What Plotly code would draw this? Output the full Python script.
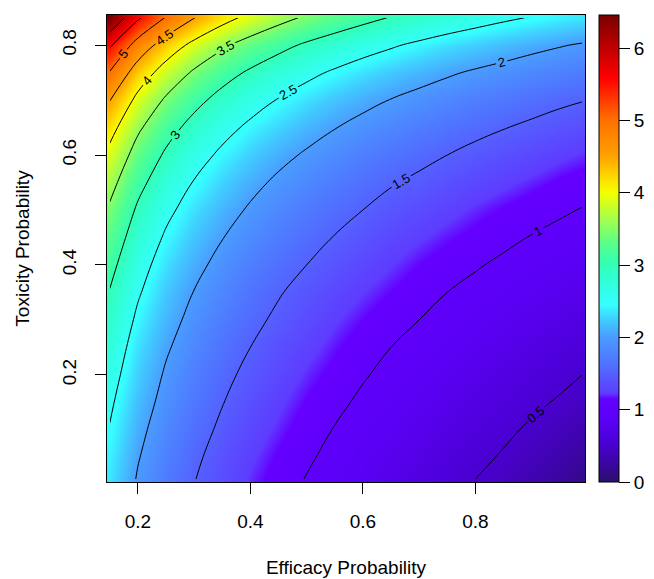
import plotly.graph_objects as go

# Grid (values estimated from colours / contour positions)
efficacy = [0.15, 0.2, 0.25, 0.3, 0.35, 0.4, 0.45, 0.5, 0.55,
            0.6, 0.65, 0.7, 0.75, 0.8, 0.85, 0.9, 0.95, 0.99]
toxicity = [0.01, 0.05, 0.1, 0.15, 0.2, 0.25, 0.3, 0.35, 0.4,
            0.45, 0.5, 0.55, 0.6, 0.65, 0.7, 0.75, 0.8, 0.85]

# one row per toxicity value, one column per efficacy value
z_t001 = [2.35, 1.97, 1.71, 1.51, 1.35, 1.21, 1.09, 0.99, 0.90, 0.81, 0.73, 0.65, 0.58, 0.50, 0.43, 0.34, 0.25, 0.14]
z_t005 = [2.40, 2.02, 1.76, 1.55, 1.39, 1.25, 1.13, 1.03, 0.94, 0.85, 0.77, 0.70, 0.62, 0.55, 0.48, 0.40, 0.32, 0.25]
z_t010 = [2.48, 2.09, 1.82, 1.61, 1.45, 1.31, 1.19, 1.08, 0.99, 0.90, 0.83, 0.75, 0.68, 0.61, 0.54, 0.47, 0.40, 0.34]
z_t015 = [2.56, 2.17, 1.89, 1.68, 1.51, 1.37, 1.25, 1.14, 1.05, 0.96, 0.88, 0.81, 0.74, 0.67, 0.61, 0.54, 0.48, 0.43]
z_t020 = [2.65, 2.25, 1.96, 1.74, 1.57, 1.43, 1.31, 1.20, 1.11, 1.02, 0.94, 0.87, 0.80, 0.74, 0.67, 0.61, 0.55, 0.50]
z_t025 = [2.75, 2.33, 2.04, 1.82, 1.64, 1.50, 1.37, 1.27, 1.17, 1.08, 1.00, 0.93, 0.86, 0.80, 0.74, 0.68, 0.62, 0.58]
z_t030 = [2.86, 2.43, 2.13, 1.90, 1.72, 1.57, 1.45, 1.34, 1.24, 1.15, 1.07, 1.00, 0.93, 0.87, 0.81, 0.75, 0.70, 0.65]
z_t035 = [2.98, 2.54, 2.22, 1.99, 1.81, 1.65, 1.52, 1.41, 1.31, 1.23, 1.15, 1.07, 1.00, 0.94, 0.88, 0.83, 0.77, 0.73]
z_t040 = [3.12, 2.65, 2.33, 2.09, 1.90, 1.74, 1.61, 1.50, 1.40, 1.31, 1.23, 1.15, 1.08, 1.02, 0.96, 0.90, 0.85, 0.81]
z_t045 = [3.27, 2.79, 2.45, 2.20, 2.01, 1.85, 1.71, 1.59, 1.49, 1.40, 1.31, 1.24, 1.17, 1.11, 1.05, 0.99, 0.94, 0.90]
z_t050 = [3.44, 2.94, 2.59, 2.33, 2.13, 1.96, 1.82, 1.70, 1.59, 1.50, 1.41, 1.34, 1.27, 1.20, 1.14, 1.08, 1.03, 0.99]
z_t055 = [3.64, 3.12, 2.75, 2.48, 2.27, 2.09, 1.94, 1.82, 1.71, 1.61, 1.52, 1.45, 1.37, 1.31, 1.25, 1.19, 1.13, 1.09]
z_t060 = [3.88, 3.32, 2.94, 2.65, 2.43, 2.25, 2.09, 1.96, 1.85, 1.74, 1.65, 1.57, 1.50, 1.43, 1.37, 1.31, 1.25, 1.21]
z_t065 = [4.16, 3.57, 3.16, 2.86, 2.62, 2.43, 2.27, 2.13, 2.01, 1.90, 1.81, 1.72, 1.64, 1.57, 1.51, 1.45, 1.39, 1.35]
z_t070 = [4.51, 3.88, 3.44, 3.12, 2.86, 2.65, 2.48, 2.33, 2.20, 2.09, 1.99, 1.90, 1.82, 1.74, 1.68, 1.61, 1.55, 1.51]
z_t075 = [4.97, 4.27, 3.80, 3.44, 3.16, 2.94, 2.75, 2.59, 2.45, 2.33, 2.22, 2.13, 2.04, 1.96, 1.89, 1.82, 1.76, 1.71]
z_t080 = [5.57, 4.80, 4.27, 3.88, 3.57, 3.32, 3.12, 2.94, 2.79, 2.65, 2.54, 2.43, 2.33, 2.25, 2.17, 2.09, 2.02, 1.97]
z_t085 = [6.46, 5.57, 4.97, 4.51, 4.16, 3.88, 3.64, 3.44, 3.27, 3.12, 2.98, 2.86, 2.75, 2.65, 2.56, 2.48, 2.40, 2.35]

z_values = [z_t001, z_t005, z_t010, z_t015, z_t020, z_t025, z_t030, z_t035, z_t040,
            z_t045, z_t050, z_t055, z_t060, z_t065, z_t070, z_t075, z_t080, z_t085]

x_ticks = [0.2, 0.4, 0.6, 0.8]
y_ticks = [0.2, 0.4, 0.6, 0.8]
cb_ticks = [0, 1, 2, 3, 4, 5, 6]

zmax = 6.46
stops = [
    (0.00, "#2b0f6c"), (0.04, "#3a06a0"), (0.08, "#4a00d2"), (0.13, "#5a00f5"),
    (0.178, "#6400ff"), (0.19, "#5e3cff"), (0.25, "#5070ff"), (0.31, "#4a9cff"),
    (0.35, "#40d0ff"), (0.38, "#36ffff"), (0.43, "#30ffd8"), (0.47, "#34ffb0"),
    (0.51, "#58ff8c"), (0.56, "#a0ff50"), (0.62, "#f5ff00"), (0.66, "#ffd000"),
    (0.70, "#ffa000"), (0.775, "#ff7000"), (0.865, "#ff0000"), (1.00, "#7a0000"),
]
colorscale = [[s, c] for s, c in stops]

FONT = "Liberation Sans, Arial, Helvetica, sans-serif"

fig = go.Figure()
fig.add_trace(go.Heatmap(
    x=efficacy, y=toxicity, z=z_values,
    zmin=0, zmax=zmax, zsmooth="best",
    colorscale=colorscale,
    colorbar=dict(
        x=(599.3 - 106.5) / 478.9, xanchor="left", xpad=0,
        y=0.5, yanchor="middle", len=1, lenmode="fraction", ypad=0,
        thickness=20, outlinewidth=1, outlinecolor="black",
        tickvals=cb_ticks, ticks="outside", ticklen=11, tickcolor="black",
        tickfont=dict(family=FONT, size=19, color="black"),
    ),
    hoverinfo="skip",
))
fig.add_trace(go.Contour(
    x=efficacy, y=toxicity, z=z_values,
    contours=dict(start=0.5, end=6.0, size=0.5, coloring="none",
                  showlabels=True,
                  labelfont=dict(family=FONT, size=13, color="black")),
    line=dict(color="black", width=1, smoothing=1.3),
    showscale=False, hoverinfo="skip",
))

axis_common = dict(
    showline=True, linecolor="black", linewidth=1, mirror=True,
    ticks="outside", ticklen=11, tickcolor="black", showgrid=False, zeroline=False,
    ticklabelstandoff=11,
    tickfont=dict(family=FONT, size=19, color="black"),
)
fig.update_layout(
    width=654, height=579,
    margin=dict(l=106.5, r=68.6, t=15, b=96.7, autoexpand=False),
    paper_bgcolor="white", plot_bgcolor="white",
    xaxis=dict(range=[0.145, 0.995], tickvals=x_ticks,
               ticktext=[str(v) for v in x_ticks],
               title=dict(text="Efficacy Probability", standoff=29,
                          font=dict(family=FONT, size=19, color="black")),
               **axis_common),
    yaxis=dict(range=[0.005, 0.855], tickvals=y_ticks, tickangle=-90,
               ticktext=[str(v) for v in y_ticks],
               title=dict(text="Toxicity Probability", standoff=24,
                          font=dict(family=FONT, size=19, color="black")),
               **axis_common),
    showlegend=False,
)
fig.write_html("out.html", config={"displayModeBar": False},
               post_script="document.body.style.margin='0';document.body.style.padding='0';")
